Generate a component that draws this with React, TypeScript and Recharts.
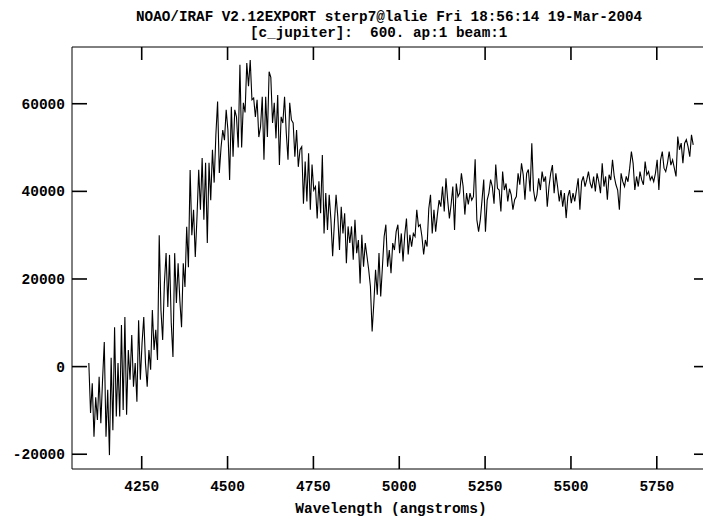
import React from 'react';
import { LineChart, Line, XAxis, YAxis, ReferenceLine } from 'recharts';

// Spectrum sampling: wavelengths start at 4096 Å with 5 Å spacing
const START_WAVELENGTH = 4096;
const STEP = 5;

// Flux values (one per 5 Å)
const flux: number[] = [
  800, -10600, -3800, -16000, -7000, -12200, -2300, -12900, -3000, 5600,
  -16000, -5300, -20200, 2000, -14500, 9000, -11400, 800, -11400, 9500,
  -9900, 11300, -11000, 3800, -3000, 7200, -4600, 800, -8000, 10600,
  -3000, 5400, 11300, 800, -4600, 3800, -700, 12900, 3800, 8400,
  1500, 30000, 12900, 6100, 19000, 25900, 13600, 25500, 10000, 2200,
  25900, 14500, 23600, 15200, 9000, 23600, 18200, 31900, 22700, 44900,
  30000, 35800, 25000, 34200, 44900, 35800, 47600, 33500, 46500, 28200,
  46500, 38000, 49500, 42000, 53000, 60500, 44200, 50000, 54000, 51700,
  58600, 54000, 42600, 59300, 47900, 58600, 57000, 50000, 68900, 50000,
  60200, 58000, 69300, 64000, 70000, 60900, 61300, 57000, 60900, 52400,
  54700, 61600, 47200, 61600, 52400, 67300, 66000, 55600, 60200, 52100,
  62000, 46000, 57000, 55600, 61600, 53300, 47200, 60200, 56300, 55600,
  47900, 54000, 45600, 49500, 50200, 37200, 46800, 37700, 48700, 35800,
  46100, 40300, 41100, 33800, 42300, 35000, 48300, 30400, 39600, 31200,
  39200, 33500, 25200, 32700, 39200, 34200, 26600, 36500, 30400, 35000,
  23600, 32000, 28200, 32000, 24400, 33500, 25900, 28900, 19000, 30100,
  22800, 28200, 25200, 22100, 18300, 8000, 14500, 22100, 16400, 25900,
  16000, 22800, 29700, 32400, 22800, 26600, 21300, 28200, 26600, 30800,
  32400, 25900, 30400, 24000, 30100, 33800, 25600, 30100, 27400, 30400,
  29700, 35800, 32000, 32400, 29700, 25600, 28900, 27400, 36100, 39200,
  30400, 35800, 30800, 34700, 38000, 36500, 41100, 35400, 43000, 38000,
  33800, 37000, 41100, 31200, 41800, 38800, 39600, 44100, 41100, 34700,
  39600, 37000, 39600, 38000, 38800, 47300, 33500, 30800, 33500, 38000,
  42700, 30800, 38000, 39600, 42700, 41100, 37200, 46100, 40700, 40300,
  35400, 44500, 40300, 41800, 37700, 40600, 39200, 35800, 38100, 38800,
  44100, 41500, 46400, 43800, 38100, 44100, 45000, 40000, 51000, 40300,
  37700, 39200, 43000, 40300, 44500, 42200, 43400, 36500, 41100, 44100,
  46000, 39600, 44100, 41100, 37700, 40300, 36500, 39600, 33900, 38800,
  40300, 37300, 39600, 37700, 40300, 43000, 35800, 42200, 43400, 41100,
  42600, 44500, 41900, 40700, 43400, 40000, 44100, 42200, 39600, 46400,
  41100, 43400, 38100, 43800, 42600, 47200, 43400, 41500, 40300, 35800,
  44100, 42200, 41100, 43400, 42200, 45300, 49100, 46400, 40300, 43400,
  41100, 44500, 42600, 41500, 46800, 43800, 44500, 42600, 43400, 42200,
  44100, 47200, 40300, 47200, 49100, 45300, 44500, 46400, 49100, 46000,
  47200, 45300, 43400, 52500, 49500, 51000, 46400, 51000, 51800, 50200,
  47900, 52900, 50600,
];

const xTicks = [4250, 4500, 4750, 5000, 5250, 5500, 5750];
const yTicks = [-20000, 0, 20000, 40000, 60000];
const xDomain: [number, number] = [4047, 5902];
const yDomain: [number, number] = [-23370, 72950];

const titleLine1 = 'NOAO/IRAF V2.12EXPORT sterp7@lalie Fri 18:56:14 19-Mar-2004';
const titleLine2 = '[c_jupiter]:  600. ap:1 beam:1';
const xAxisLabel = 'Wavelength (angstroms)';

const data = flux.map((f, i) => ({ w: START_WAVELENGTH + i * STEP, f }));

// Layout
const CHART_W = 720;
const CHART_H = 520;
const PLOT_LEFT = 72;
const PLOT_TOP = 47;
const PLOT_RIGHT = 709;
const PLOT_BOTTOM = 469;
const X_TICK_LEN_PX = 13;
const Y_TICK_LEN_PX = 15;

// tick lengths converted to axis units
const Y_PER_PX = (yDomain[1] - yDomain[0]) / (PLOT_BOTTOM - PLOT_TOP);
const X_PER_PX = (xDomain[1] - xDomain[0]) / (PLOT_RIGHT - PLOT_LEFT);
const X_TICK_LEN = X_TICK_LEN_PX * Y_PER_PX;
const Y_TICK_LEN = Y_TICK_LEN_PX * X_PER_PX;

const FONT = '"Liberation Mono", "DejaVu Sans Mono", monospace';
const LABEL_SIZE = 14.5;
const TICK_W = 1.6;

const BottomTick = (props: any) => {
  const { x, y, payload } = props;
  return (
    <g>
      <line x1={x} y1={y} x2={x} y2={y - X_TICK_LEN_PX} stroke="#000" strokeWidth={TICK_W} />
      <text
        x={x}
        y={y + 22}
        textAnchor="middle"
        fill="#000"
        fontFamily={FONT}
        fontWeight="bold"
        fontSize={LABEL_SIZE}
      >
        {payload.value}
      </text>
    </g>
  );
};

const LeftTick = (props: any) => {
  const { x, y, payload } = props;
  return (
    <g>
      <line x1={x} y1={y} x2={x + Y_TICK_LEN_PX} y2={y} stroke="#000" strokeWidth={TICK_W} />
      <text
        x={x - 7}
        y={y + 5}
        textAnchor="end"
        fill="#000"
        fontFamily={FONT}
        fontWeight="bold"
        fontSize={LABEL_SIZE}
      >
        {payload.value}
      </text>
    </g>
  );
};

export default function App() {
  return (
    <div
      style={{
        position: 'absolute',
        left: 0,
        top: 0,
        width: 703,
        height: 520,
        overflow: 'hidden',
        background: '#fff',
      }}
    >
      <LineChart
        width={CHART_W}
        height={CHART_H}
        data={data}
        margin={{ top: PLOT_TOP, right: CHART_W - PLOT_RIGHT, bottom: 0, left: 0 }}
      >
        <XAxis
          xAxisId="b"
          dataKey="w"
          type="number"
          orientation="bottom"
          domain={xDomain}
          ticks={xTicks}
          interval={0}
          allowDataOverflow
          height={CHART_H - PLOT_BOTTOM}
          tickSize={0}
          tickMargin={0}
          axisLine={{ stroke: '#000', strokeWidth: 1 }}
          tickLine={false}
          tick={BottomTick}
        />
        <YAxis
          yAxisId="l"
          type="number"
          orientation="left"
          domain={yDomain}
          ticks={yTicks}
          interval={0}
          allowDataOverflow
          width={PLOT_LEFT}
          tickSize={0}
          tickMargin={0}
          axisLine={{ stroke: '#000', strokeWidth: 1 }}
          tickLine={false}
          tick={LeftTick}
        />
        {/* top and right frame edges */}
        <ReferenceLine xAxisId="b" yAxisId="l" y={yDomain[1]} stroke="#000" strokeWidth={1} ifOverflow="visible" />
        <ReferenceLine xAxisId="b" yAxisId="l" x={xDomain[1]} stroke="#000" strokeWidth={1} ifOverflow="visible" />
        {xTicks.map((t) => (
          <ReferenceLine
            key={`xt${t}`}
            xAxisId="b"
            yAxisId="l"
            segment={[
              { x: t, y: yDomain[1] },
              { x: t, y: yDomain[1] - X_TICK_LEN },
            ]}
            stroke="#000"
            strokeWidth={TICK_W}
            ifOverflow="visible"
          />
        ))}
        {yTicks.map((v) => (
          <ReferenceLine
            key={`yr${v}`}
            xAxisId="b"
            yAxisId="l"
            segment={[
              { x: xDomain[1], y: v },
              { x: xDomain[1] - Y_TICK_LEN, y: v },
            ]}
            stroke="#000"
            strokeWidth={TICK_W}
            ifOverflow="visible"
          />
        ))}
        <Line
          xAxisId="b"
          yAxisId="l"
          type="linear"
          dataKey="f"
          stroke="#000"
          strokeWidth={1.1}
          dot={false}
          isAnimationActive={false}
        />
      </LineChart>
      <svg
        width={703}
        height={520}
        style={{ position: 'absolute', left: 0, top: 0, pointerEvents: 'none' }}
      >
        <g fontFamily={FONT} fontWeight="bold" fill="#000">
          <text x={136} y={21} fontSize={14.3} style={{ whiteSpace: 'pre' }}>
            {titleLine1}
          </text>
          <text x={250} y={37} fontSize={14.3} style={{ whiteSpace: 'pre' }}>
            {titleLine2}
          </text>
          <text x={391} y={513} fontSize={LABEL_SIZE} textAnchor="middle">
            {xAxisLabel}
          </text>
        </g>
      </svg>
    </div>
  );
}
